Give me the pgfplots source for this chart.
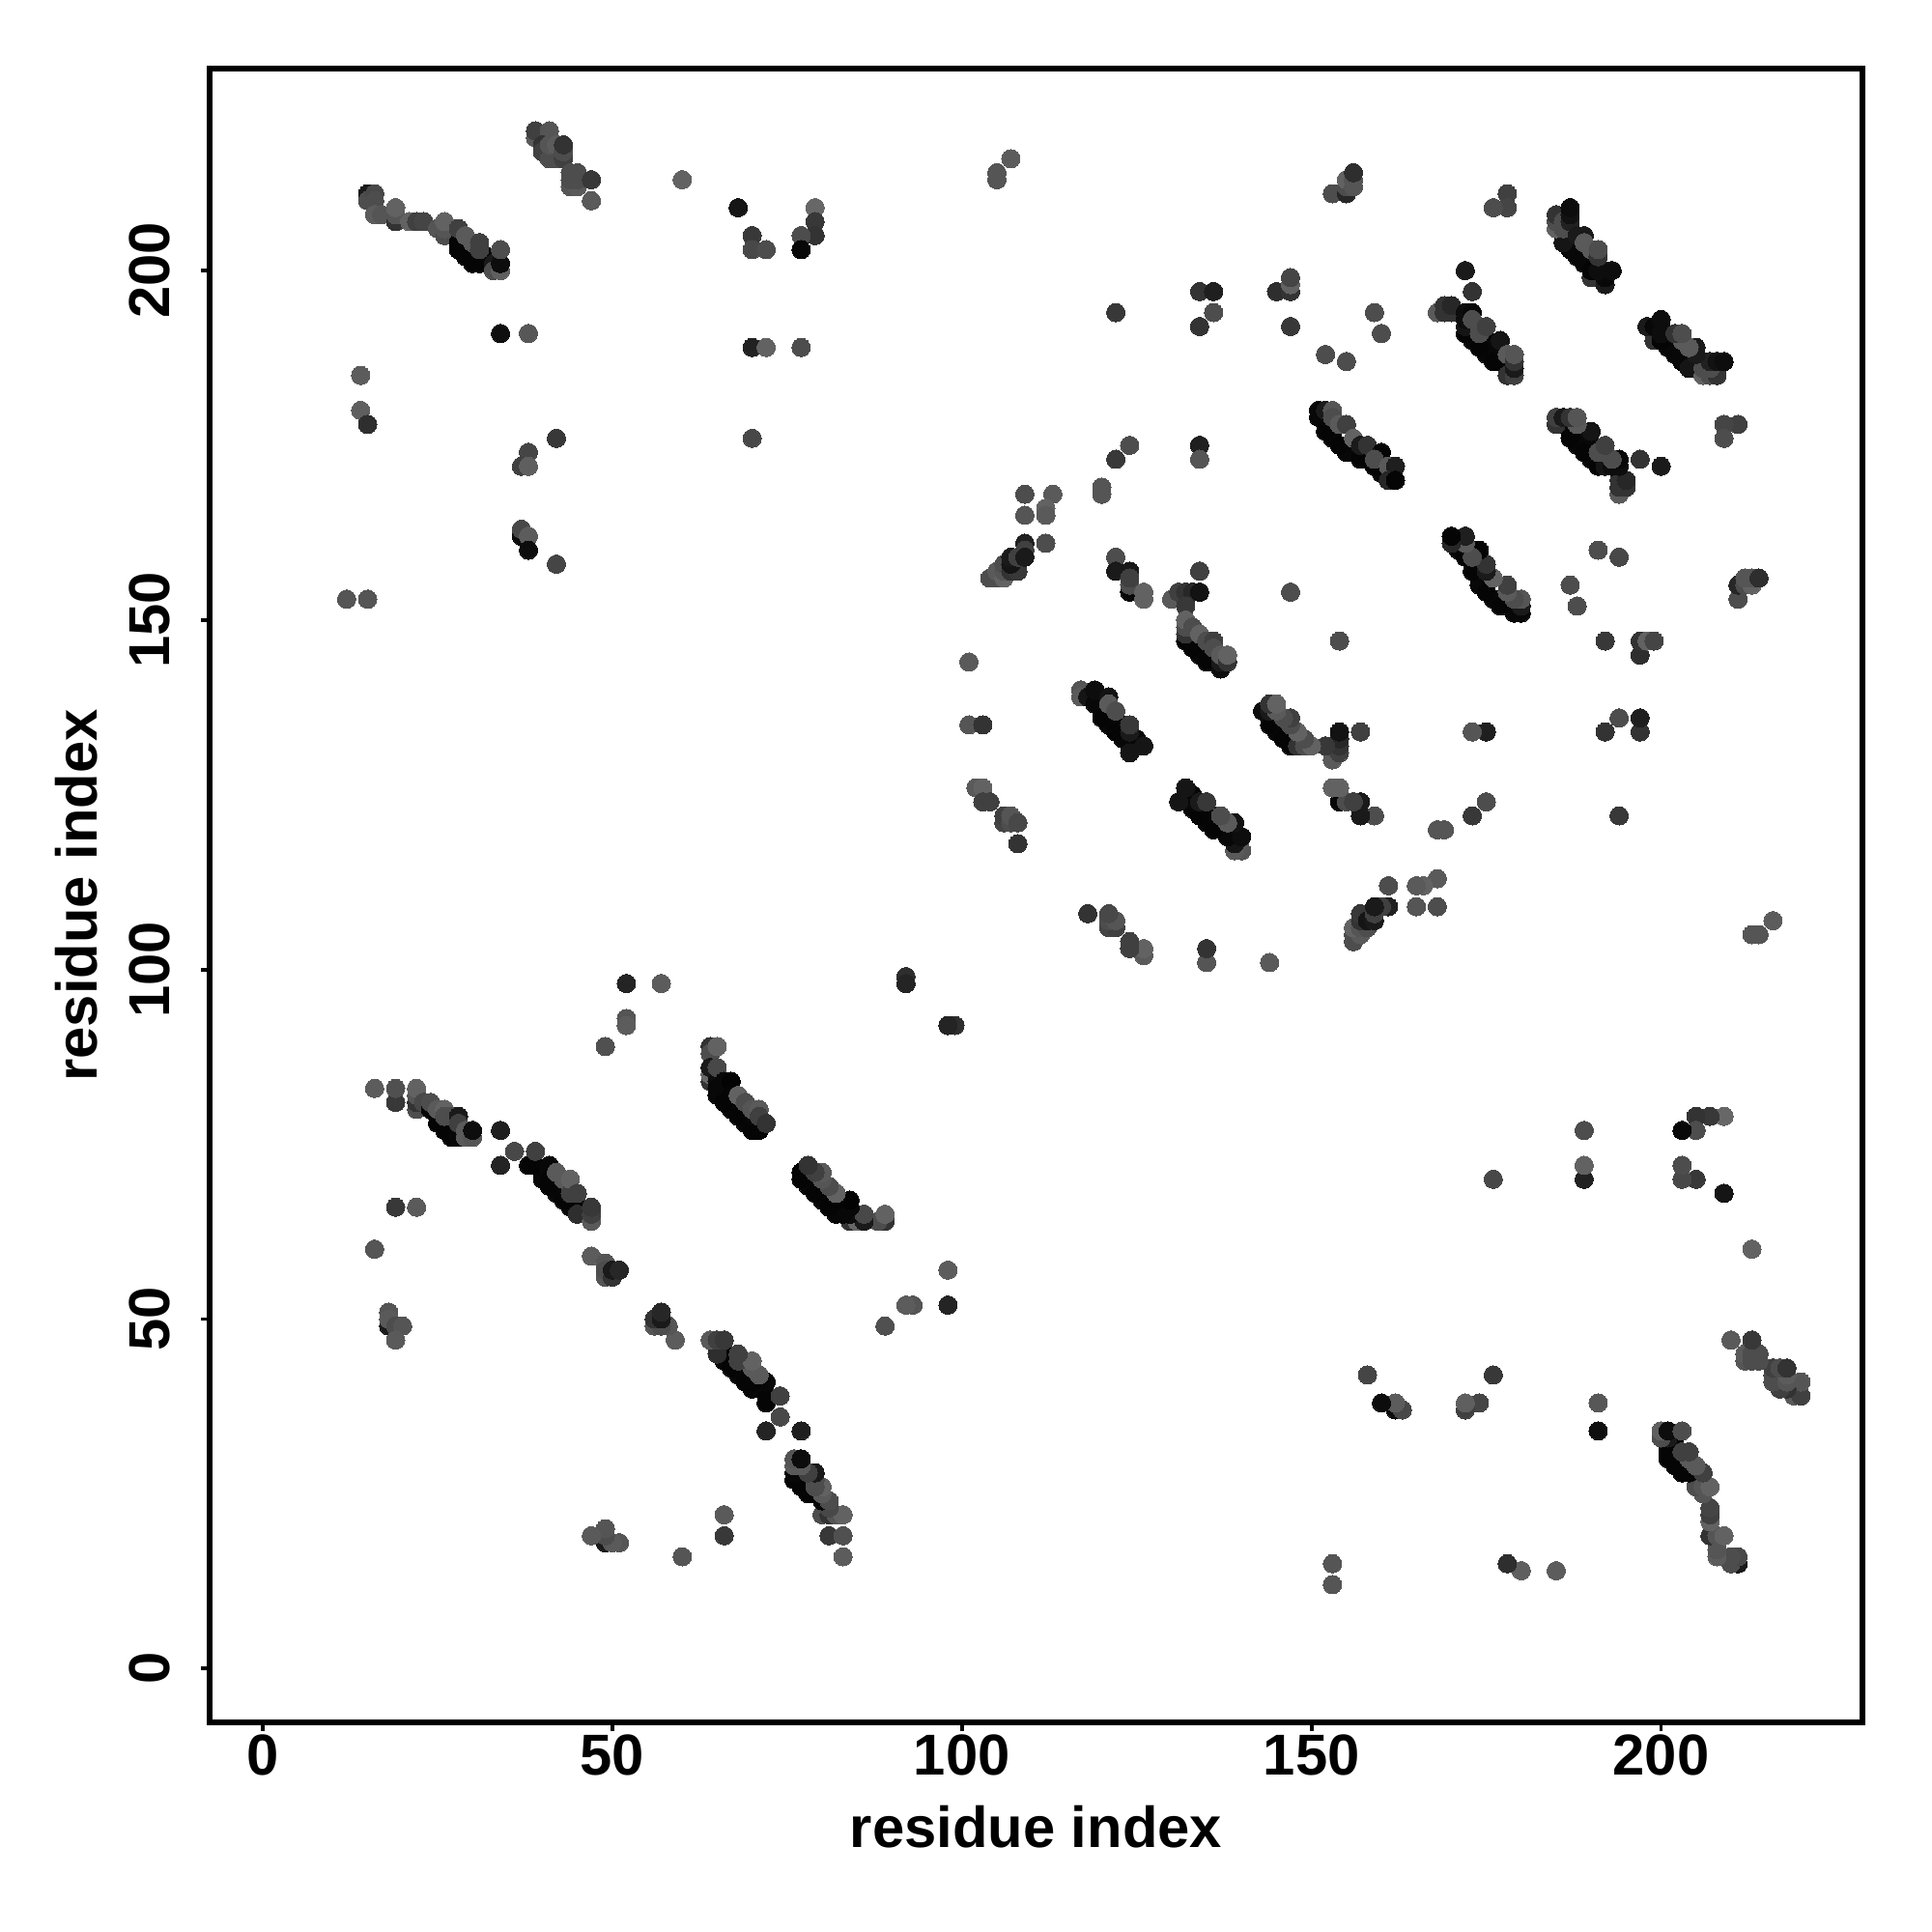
\documentclass[border=0pt]{standalone}
\usepackage{fontspec}
\setmainfont{Liberation Sans}
\usepackage{pgfplots}
\usepackage{pgfplotstable}
\pgfplotsset{compat=1.18}
\pgfplotstableread{
i j g
27 78 .03
28 77 .03
42 68 .03
44 66 .03
42 69 .03
43 68 .03
44 67 .03
40 71 .03
40 70 .03
67 80 .03
69 78 .03
65 82 .03
66 82 .03
66 83 .03
68 80 .03
70 78 .03
67 81 .03
69 79 .03
29 203 .03
30 202 .03
31 202 .03
32 201 .03
32 202 .03
29 204 .03
30 203 .03
153 176 .03
153 177 .03
155 174 .03
155 175 .03
156 174 .03
156 175 .03
158 173 .03
158 174 .03
160 171 .03
160 172 .03
160 173 .03
161 171 .03
133 147 .03
134 145 .03
134 146 .03
136 144 .03
135 145 .03
136 145 .03
121 135 .03
121 136 .03
122 135 .03
123 133 .03
123 134 .03
122 136 .03
123 135 .03
125 132 .03
125 133 .03
187 203 .03
187 204 .03
188 203 .03
189 201 .03
189 202 .03
190 201 .03
191 199 .03
191 200 .03
186 205 .03
187 205 .03
187 206 .03
192 200 .03
173 190 .03
173 191 .03
174 190 .03
175 188 .03
175 189 .03
176 188 .03
177 187 .03
177 188 .03
178 186 .03
178 187 .03
175 190 .03
176 189 .03
14 185 .36
14 180 .37
15 178 .18
12 153 .33
15 153 .33
34 191 .06
38 191 .34
42 176 .22
38 174 .27
37 172 .25
38 172 .37
37 162 .05
37 163 .28
38 162 .36
38 160 .05
42 158 .27
15 211 .1
15 210 .3
16 211 .28
16 210 .3
16 208 .36
17 208 .33
19 207 .2
19 208 .33
19 209 .38
21 207 .38
22 207 .25
23 207 .27
25 206 .33
26 205 .3
26 206 .33
26 207 .38
28 204 .02
28 203 .02
29 202 .02
30 201 .02
31 201 .02
28 206 .25
29 205 .35
30 204 .35
31 203 .25
31 204 .25
33 201 .1
33 200 .3
34 200 .37
34 201 .05
34 203 .3
39 219 .35
39 220 .25
41 220 .33
40 218 .2
40 217 .25
41 216 .3
42 216 .3
41 218 .33
42 218 .36
43 216 .25
43 217 .3
43 218 .2
44 212 .33
45 212 .35
44 213 .3
45 213 .3
44 214 .3
45 214 .3
47 213 .22
47 210 .35
60 213 .38
68 209 .08
79 209 .4
79 207 .22
79 205 .2
77 205 .3
77 203 .03
70 205 .22
70 203 .28
72 203 .3
70 189 .13
72 189 .38
77 189 .3
70 176 .28
16 83 .36
19 81 .22
19 83 .31
22 80 .3
22 81 .2
22 82 .33
22 83 .38
23 81 .28
24 80 .03
24 81 .3
25 79 .02
25 78 .02
26 78 .02
26 77 .02
27 77 .02
27 76 .02
28 76 .03
25 80 .35
26 80 .38
26 79 .3
27 79 .3
28 79 .1
28 78 .25
29 77 .35
29 76 .35
30 76 .33
30 77 .05
34 77 .12
34 72 .14
36 74 .28
38 72 .02
39 72 .02
41 72 .03
41 71 .03
41 70 .02
41 69 .02
43 67 .02
45 66 .02
45 65 .18
39 74 .25
42 71 .35
43 70 .35
44 68 .25
44 70 .38
45 68 .25
47 64 .35
47 65 .25
47 66 .22
47 59 .36
49 56 .33
49 58 .33
49 57 .3
50 56 .2
50 57 .1
51 57 .15
19 66 .22
22 66 .35
16 60 .33
18 49 .1
18 51 .33
18 50 .35
19 49 .3
20 49 .33
19 47 .35
52 98 .14
57 98 .36
52 93 .33
52 92 .36
49 89 .31
92 99 .18
92 98 .14
64 89 .2
64 88 .3
65 89 .38
64 84 .2
64 85 .4
64 86 .1
65 84 .05
65 83 .03
65 86 .28
66 84 .03
67 84 .01
66 81 .02
67 82 .02
68 79 .02
69 80 .02
70 77 .02
71 77 .02
68 82 .38
69 81 .3
70 80 .33
71 80 .35
71 79 .25
72 78 .2
122 194 .22
134 197 .2
136 197 .12
136 194 .3
134 192 .2
145 197 .18
147 197 .2
147 198 .38
147 199 .27
147 192 .22
159 194 .28
160 191 .3
152 188 .3
155 187 .3
124 175 .3
122 173 .22
134 175 .12
134 173 .33
120 169 .33
120 168 .33
122 159 .3
122 157 .1
124 157 .1
124 154 .03
124 155 .3
124 156 .25
126 154 .38
126 153 .38
134 157 .25
130 153 .35
132 153 .25
131 154 .25
132 154 .2
133 154 .15
134 154 .07
147 154 .3
151 180 .03
151 179 .03
152 177 .02
154 175 .02
157 173 .02
159 172 .02
152 180 .1
153 180 .33
153 179 .3
154 178 .35
155 178 .25
156 176 .38
157 175 .1
158 175 .2
160 174 .02
159 173 .3
161 172 .35
162 172 .12
161 170 .15
162 170 .02
109 168 .3
113 168 .35
112 166 .38
112 165 .35
109 165 .33
109 161 .13
109 160 .25
112 161 .3
104 156 .3
105 156 .3
105 157 .35
106 156 .38
106 157 .33
106 158 .3
107 157 .2
108 157 .22
107 158 .08
107 159 .1
108 159 .25
109 159 .1
132 152 .22
132 147 .02
133 146 .02
135 144 .02
137 143 .05
132 148 .2
132 149 .3
132 150 .38
133 149 .3
134 148 .38
135 147 .3
136 147 .25
136 146 .3
137 144 .1
137 145 .35
138 144 .2
138 145 .38
117 140 .33
117 139 .35
118 139 .08
119 138 .03
119 140 .05
120 137 .03
120 136 .02
122 134 .02
124 133 .03
124 131 .08
121 139 .07
121 138 .35
122 137 .3
124 134 .1
124 135 .22
126 132 .08
101 144 .35
101 135 .33
103 135 .2
102 126 .35
103 126 .38
103 124 .25
104 124 .25
106 121 .27
106 122 .25
107 121 .3
107 122 .33
108 121 .28
108 118 .2
178 211 .25
178 209 .27
176 209 .3
186 204 .08
188 202 .03
190 199 .2
190 200 .02
192 198 .1
192 199 .03
193 200 .05
191 200 .05
185 206 .38
185 207 .3
185 208 .2
186 206 .3
186 207 .3
187 207 .13
187 208 .07
187 209 .05
188 205 .1
189 205 .1
189 204 .35
190 203 .35
191 202 .2
191 203 .3
172 200 .1
173 197 .2
168 194 .35
169 194 .2
169 195 .2
170 194 .2
170 195 .15
172 191 .02
172 192 .08
172 193 .05
172 194 .05
173 194 .03
174 189 .02
176 187 .02
173 193 .3
174 191 .3
175 192 .25
177 190 .08
178 185 .2
179 185 .25
178 188 .35
179 186 .1
179 187 .2
179 188 .33
191 160 .3
194 159 .3
187 155 .3
188 152 .3
105 213 .33
105 214 .33
107 216 .36
153 211 .3
155 211 .15
155 212 .3
155 213 .38
156 212 .33
156 213 .33
156 214 .18
}\T
\begin{document}
\begin{tikzpicture}
\useasboundingbox (-2.17,-2.17) rectangle (17.83,17.83);
\begin{axis}[
  scale only axis,
  width=17.11cm,
  height=17.12cm,
  xmin=-7.6, xmax=228.8,
  ymin=-7.7, ymax=228.9,
  xtick={0,50,100,150,200},
  ytick={0,50,100,150,200},
  tick align=outside,
  xtick pos=bottom,
  ytick pos=left,
  major tick length=0.87mm,
  tick style={black,line width=1.1pt},
  axis line style={black,line width=1.7pt},
  /pgf/number format/assume math mode=true,
  ticklabel style={font=\fontsize{17}{20}\selectfont\bfseries},
  xticklabel style={yshift=0.8mm},
  yticklabel style={rotate=90,anchor=south,yshift=2mm},
  xlabel={residue index},
  ylabel={residue index},
  label style={font=\fontsize{17}{20}\selectfont\bfseries},
  xlabel style={at={(axis description cs:0.5,0)},anchor=center,yshift=-10.8mm},
  ylabel style={at={(axis description cs:0,0.5)},anchor=center,yshift=13.8mm},
  colormap={g}{gray(0cm)=(0); gray(1cm)=(1)},
  point meta min=0, point meta max=1,
]
\addplot[scatter, only marks, mark=*, mark size=0.95mm, point meta=explicit,
  scatter/use mapped color={draw=mapped color,fill=mapped color,line width=0pt}]
  table[x=i,y=j,meta=g]{\T};
\addplot[scatter, only marks, mark=*, mark size=0.95mm, point meta=explicit,
  scatter/use mapped color={draw=mapped color,fill=mapped color,line width=0pt}]
  table[x=j,y=i,meta=g]{\T};
\end{axis}
\end{tikzpicture}
\end{document}
